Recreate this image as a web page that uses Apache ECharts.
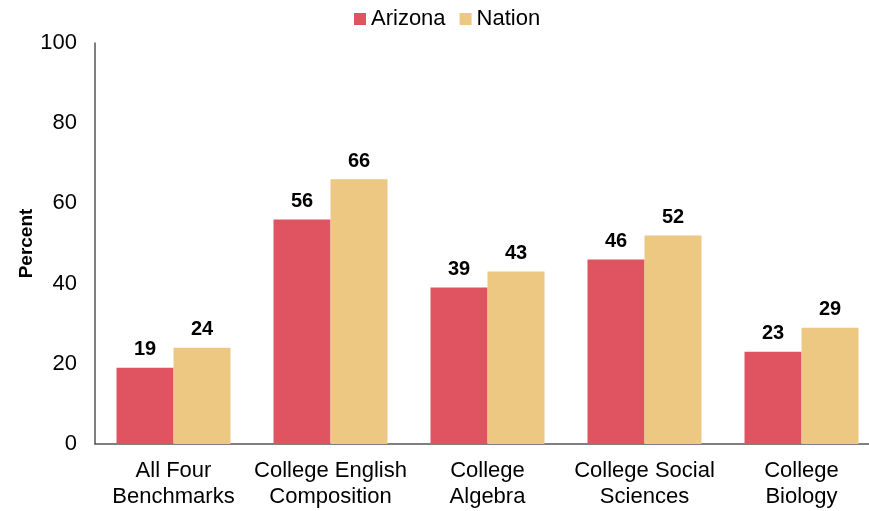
<!DOCTYPE html>
<html>
<head>
    <meta charset="utf-8">
    <title>Benchmarks</title>
    <script src="https://cdn.jsdelivr.net/npm/echarts@6/dist/echarts.min.js"></script>
</head>
<body style="margin:0">
    <div id="main" style="width:869px;height:511px;"></div>
    <script type="text/javascript">
        var categories = ['All Four\nBenchmarks', 'College English\nComposition', 'College\nAlgebra', 'College Social\nSciences', 'College\nBiology'];
        var arizona = [19, 56, 39, 46, 23];
        var nation = [24, 66, 43, 52, 29];

        var myChart = echarts.init(document.getElementById('main'));
        var font = 'Liberation Sans, Arial, sans-serif';
        var labelStyle = { show: true, position: 'top', fontFamily: font, fontSize: 20, fontWeight: 'bold', color: '#000', distance: 8 };

        var option = {
            animation: false,
            textStyle: { fontFamily: font },
            legend: {
                top: 3,
                left: 349,
                itemWidth: 12,
                itemHeight: 12,
                itemGap: 14,
                icon: 'rect',
                textStyle: { fontSize: 22, color: '#000', fontFamily: font },
                data: ['Arizona', 'Nation']
            },
            grid: { left: 95, top: 43, right: -11, bottom: 67, outerBoundsMode: 'none' },
            xAxis: {
                type: 'category',
                data: categories,
                axisTick: { show: false },
                axisLine: { lineStyle: { color: '#555', width: 1.5 } },
                axisLabel: { color: '#000', fontSize: 22, lineHeight: 26, margin: 14, interval: 0 }
            },
            yAxis: {
                type: 'value',
                min: 0,
                max: 100,
                interval: 20,
                name: 'Percent',
                nameLocation: 'middle',
                nameGap: 59,
                nameMoveOverlap: false,
                nameTextStyle: { fontSize: 19, fontWeight: 'bold', color: '#000' },
                axisLine: { show: true, lineStyle: { color: '#555', width: 1.5 } },
                axisTick: { show: false },
                splitLine: { show: false },
                axisLabel: { color: '#000', fontSize: 22, margin: 18 }
            },
            series: [
                {
                    name: 'Arizona',
                    type: 'bar',
                    data: arizona,
                    barWidth: 57,
                    barGap: '0%',
                    itemStyle: { color: '#E05462' },
                    label: labelStyle
                },
                {
                    name: 'Nation',
                    type: 'bar',
                    data: nation,
                    barWidth: 57,
                    itemStyle: { color: '#ECC883' },
                    label: labelStyle
                }
            ]
        };
        myChart.setOption(option);
    </script>
</body>
</html>
